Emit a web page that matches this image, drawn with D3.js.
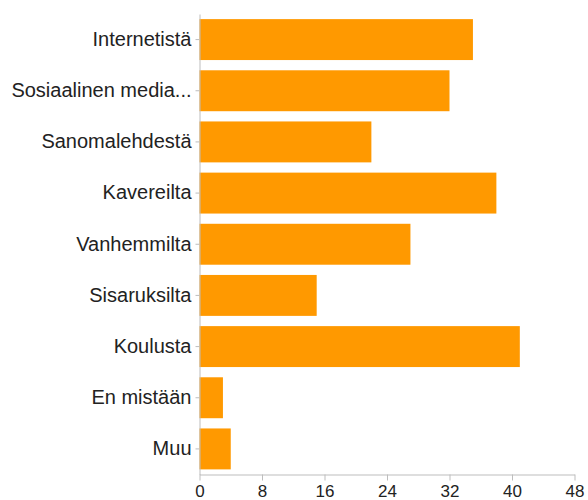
<!DOCTYPE html>
<html>
<head>
<meta charset="utf-8">
<script src="https://cdn.jsdelivr.net/npm/d3@7"></script>
<style>
  html, body { margin: 0; padding: 0; background: #fff; }
  svg { display: block; }
  .axis text { font-family: "Liberation Sans", Arial, sans-serif; fill: #222; }
  .axis path, .axis line { stroke: #bdbdbd; stroke-width: 1; }
</style>
</head>
<body>
<svg id="chart" width="588" height="500"></svg>
<script>
// Survey answers: where the information was obtained
const categories = [
  "Internetistä",
  "Sosiaalinen media...",
  "Sanomalehdestä",
  "Kavereilta",
  "Vanhemmilta",
  "Sisaruksilta",
  "Koulusta",
  "En mistään",
  "Muu"
];
const counts = [35, 32, 22, 38, 27, 15, 41, 3, 4];
const xTicks = [0, 8, 16, 24, 32, 40, 48];

const svg = d3.select("#chart");
const plotLeft = 199.5, plotRight = 574.5, plotTop = 14, plotBottom = 474.5;

const x = d3.scaleLinear().domain([0, 48]).range([plotLeft, plotRight]);
const y = d3.scaleBand()
  .domain(categories)
  .range([plotTop, plotBottom])
  .paddingInner(0.2)
  .paddingOuter(0.1);

// Bars
svg.append("g")
  .selectAll("rect")
  .data(categories.map((c, i) => ({ c, v: counts[i] })))
  .join("rect")
  .attr("x", x(0))
  .attr("y", d => y(d.c))
  .attr("width", d => x(d.v) - x(0))
  .attr("height", y.bandwidth())
  .attr("fill", "#ff9900");

// Category axis
const yAxis = svg.append("g")
  .attr("class", "axis")
  .attr("transform", `translate(${plotLeft},0)`)
  .call(d3.axisLeft(y).tickSize(4).tickPadding(4).tickSizeOuter(0));
yAxis.selectAll("text").style("font-size", "20px");

// Value axis
const xAxis = svg.append("g")
  .attr("class", "axis")
  .attr("transform", `translate(0,${plotBottom})`)
  .call(d3.axisBottom(x).tickValues(xTicks).tickSize(6).tickPadding(4).tickSizeOuter(0));
xAxis.selectAll("text").style("font-size", "17px");
</script>
</body>
</html>
